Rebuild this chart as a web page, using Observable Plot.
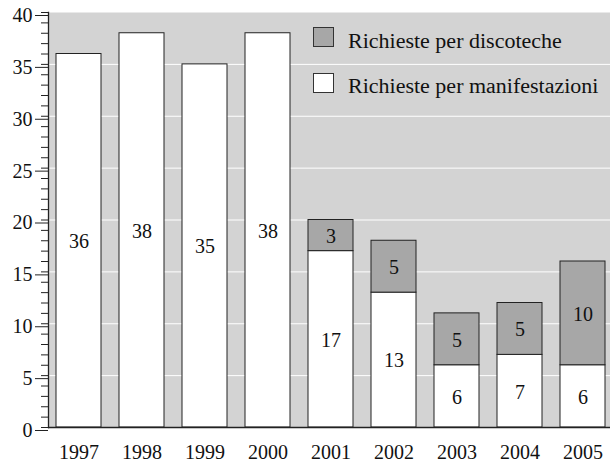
<!DOCTYPE html>
<html>
<head>
<meta charset="utf-8">
<script src="https://cdn.jsdelivr.net/npm/d3@7"></script>
<script src="https://cdn.jsdelivr.net/npm/@observablehq/plot@0.6"></script>
<style>
  html, body { margin: 0; padding: 0; background: #fff; }
  #wrap { position: relative; width: 610px; height: 466px; font-family: "Liberation Serif", Tinos, "DejaVu Serif", serif; }
  .sw { position: absolute; left: 313px; width: 19px; height: 18px; border: 1px solid #333; box-sizing: content-box; }
  .lt { position: absolute; left: 348px; font-size: 20px; line-height: 20px; color: #111; white-space: nowrap; transform: scaleX(1.1); transform-origin: 0 50%; }
</style>
</head>
<body>
<div id="wrap"></div>
<script>
const years = ["1997","1998","1999","2000","2001","2002","2003","2004","2005"];
const manifestazioni = [36, 38, 35, 38, 17, 13, 6, 7, 6];
const discoteche = [0, 0, 0, 0, 3, 5, 5, 5, 10];
const seriesNames = ["Richieste per discoteche", "Richieste per manifestazioni"];
const seriesColors = ["#a7a7a7", "#ffffff"];
const FONT = "'Liberation Serif', Tinos, 'DejaVu Serif', serif";

const manifRows = years.map((yr, i) => ({year: yr, y1: 0, y2: manifestazioni[i], v: manifestazioni[i]}));
const discoRows = years.map((yr, i) => ({year: yr, y1: manifestazioni[i], y2: manifestazioni[i] + discoteche[i], v: discoteche[i]})).filter(d => d.v > 0);

const chart = Plot.plot({
  width: 610,
  height: 466,
  marginLeft: 48,
  marginRight: 0,
  marginTop: 12,
  marginBottom: 39,
  style: {fontFamily: FONT, fontSize: "20px", color: "#111", background: "white"},
  x: {domain: years, range: [47, 614], paddingInner: 0.286, paddingOuter: 0.143, align: 0.5},
  y: {domain: [0, 40]},
  marks: [
    Plot.frame({fill: "#d3d3d3", stroke: null}),
    Plot.gridY(d3.range(5, 40, 5), {stroke: "white", strokeOpacity: 1, strokeWidth: 1}),
    Plot.rectY(manifRows, {x: "year", y1: "y1", y2: "y2", fill: seriesColors[1], stroke: "#222", strokeWidth: 1}),
    Plot.rectY(discoRows, {x: "year", y1: "y1", y2: "y2", fill: seriesColors[0], stroke: "#222", strokeWidth: 1}),
    Plot.text(manifRows, {x: "year", y: d => (d.y1 + d.y2) / 2, text: d => String(d.v), fill: "#111", fontSize: 20, fontFamily: FONT, dy: 1}),
    Plot.text(discoRows, {x: "year", y: d => (d.y1 + d.y2) / 2, text: d => String(d.v), fill: "#111", fontSize: 20, fontFamily: FONT, dy: 1}),
    Plot.ruleY([0], {stroke: "#222", strokeWidth: 1.3}),
    Plot.axisY({ticks: d3.range(0, 41, 1), tickSize: 7, tickFormat: () => "", stroke: "#222"}),
    Plot.axisY({ticks: d3.range(0, 41, 5), tickSize: 13, tickPadding: 3, stroke: "#222", fill: "#111", fontSize: 20, fontFamily: FONT, dy: 3}),
    Plot.axisX({tickSize: 0, tickPadding: 17, fill: "#111", fontSize: 20, fontFamily: FONT, label: null}),
    Plot.frame({anchor: "left", stroke: "#222", strokeWidth: 1.3})
  ]
});
const wrap = document.getElementById("wrap");
wrap.appendChild(chart);

const swTops = [27, 73];
const txtTops = [31, 76];
seriesNames.forEach((name, i) => {
  const sw = document.createElement("div");
  sw.className = "sw";
  sw.style.top = swTops[i] + "px";
  sw.style.background = seriesColors[i];
  const t = document.createElement("div");
  t.className = "lt";
  t.style.top = txtTops[i] + "px";
  t.textContent = name;
  wrap.appendChild(sw);
  wrap.appendChild(t);
});
</script>
</body>
</html>
